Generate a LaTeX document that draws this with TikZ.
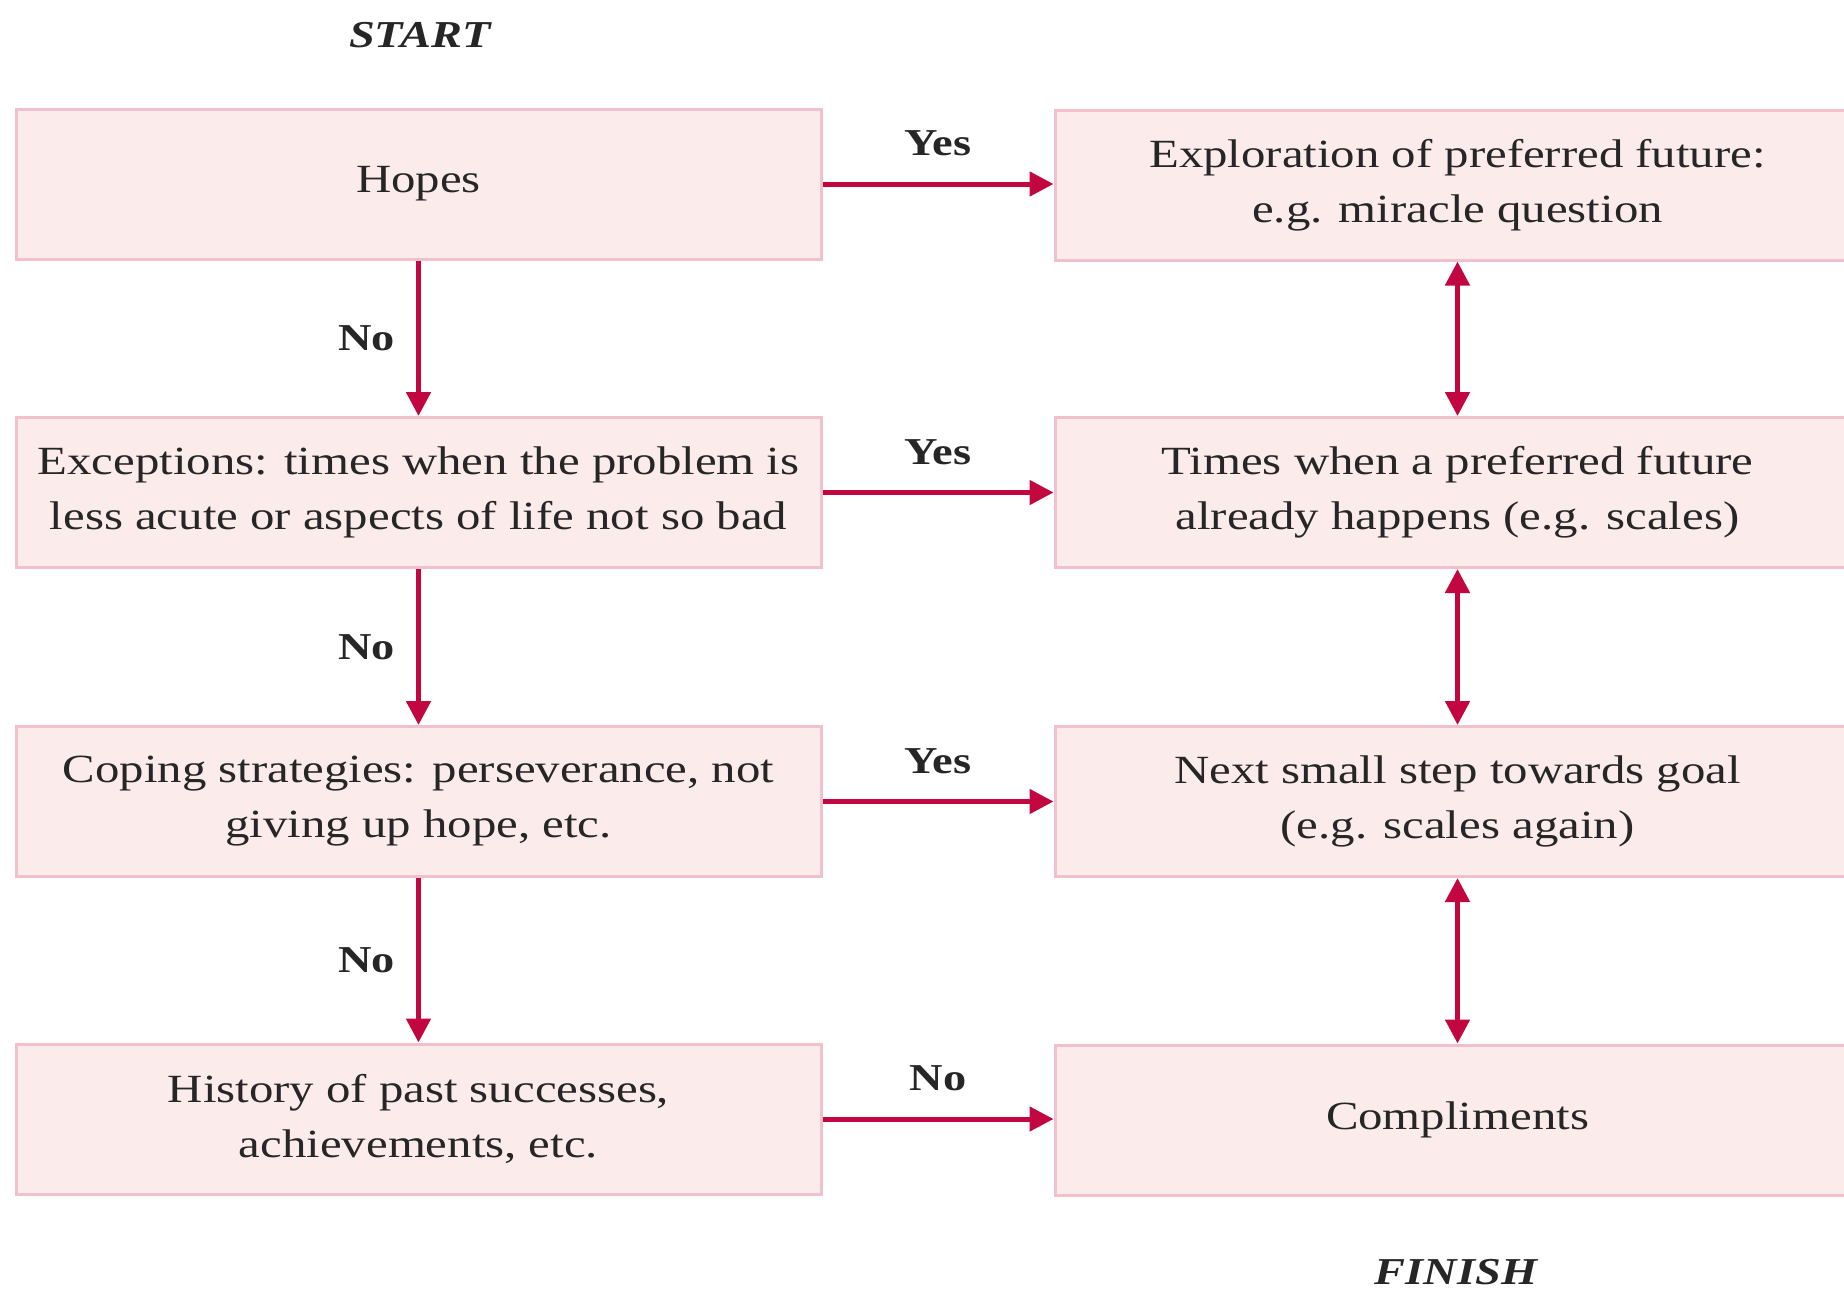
\documentclass[tikz,border=0pt]{standalone}
\usepackage{fontspec}
\setmainfont{Liberation Serif}[FakeStretch=1.22]
\usetikzlibrary{arrows.meta}
\definecolor{boxfill}{HTML}{FBEBEB}
\definecolor{boxline}{HTML}{F0C0CC}
\definecolor{arrowred}{HTML}{C2063F}
\begin{document}
\begin{tikzpicture}[x=1pt,y=-1pt,
  stepbox/.style={draw=boxline, line width=3pt, fill=boxfill, minimum width=805pt, minimum height=150pt, inner sep=0pt, align=center, text=black!85, font=\fontsize{40}{55}\selectfont},
  flow/.style={draw=arrowred, line width=5pt, -{Triangle[length=24pt,width=24pt]}},
  twoway/.style={draw=arrowred, line width=5pt, {Triangle[length=24pt,width=24pt]}-{Triangle[length=24pt,width=24pt]}},
  lab/.style={font=\fontsize{38}{44}\selectfont\bfseries, text=black!85},
  endlab/.style={font=\fontsize{38}{44}\selectfont\bfseries\itshape, text=black!85}]
\clip (0,0) rectangle (1844,1296);
\fill[white] (0,0) rectangle (1844,1296);
\node[endlab] (start) at (420,35) {START};
\node[endlab] (finish) at (1456,1272) {FINISH};
% left column
\node[stepbox] (l1) at (418.5,184) {Hopes};
\node[stepbox] (l2) at (418.5,492.5) {Exceptions: times when the problem is\\less acute or aspects of life not so bad};
\node[stepbox] (l3) at (418.5,801.5) {Coping strategies: perseverance, not\\giving up hope, etc.};
\node[stepbox] (l4) at (418.5,1119) {History of past successes,\\achievements, etc.};
% right column
\node[stepbox] (r1) at (1457.5,185) {Exploration of preferred future:\\e.g. miracle question};
\node[stepbox] (r2) at (1457.5,492.5) {Times when a preferred future\\already happens (e.g. scales)};
\node[stepbox] (r3) at (1457.5,801.5) {Next small step towards goal\\(e.g. scales again)};
\node[stepbox] (r4) at (1457.5,1120) {Compliments};
% horizontal arrows
\draw[flow] (l1.east) -- (r1.west |- l1.east) node[lab, midway, above=22pt] {Yes};
\draw[flow] (l2.east) -- (r2.west |- l2.east) node[lab, midway, above=22pt] {Yes};
\draw[flow] (l3.east) -- (r3.west |- l3.east) node[lab, midway, above=22pt] {Yes};
\draw[flow] (l4.east) -- (r4.west |- l4.east) node[lab, midway, above=22pt] {No};
% left vertical arrows
\draw[flow] (l1.south) -- (l2.north) node[lab, midway, left=18pt] {No};
\draw[flow] (l2.south) -- (l3.north) node[lab, midway, left=18pt] {No};
\draw[flow] (l3.south) -- (l4.north) node[lab, midway, left=18pt] {No};
% right double arrows
\draw[twoway] (r1.south) -- (r2.north);
\draw[twoway] (r2.south) -- (r3.north);
\draw[twoway] (r3.south) -- (r4.north);
\end{tikzpicture}
\end{document}
